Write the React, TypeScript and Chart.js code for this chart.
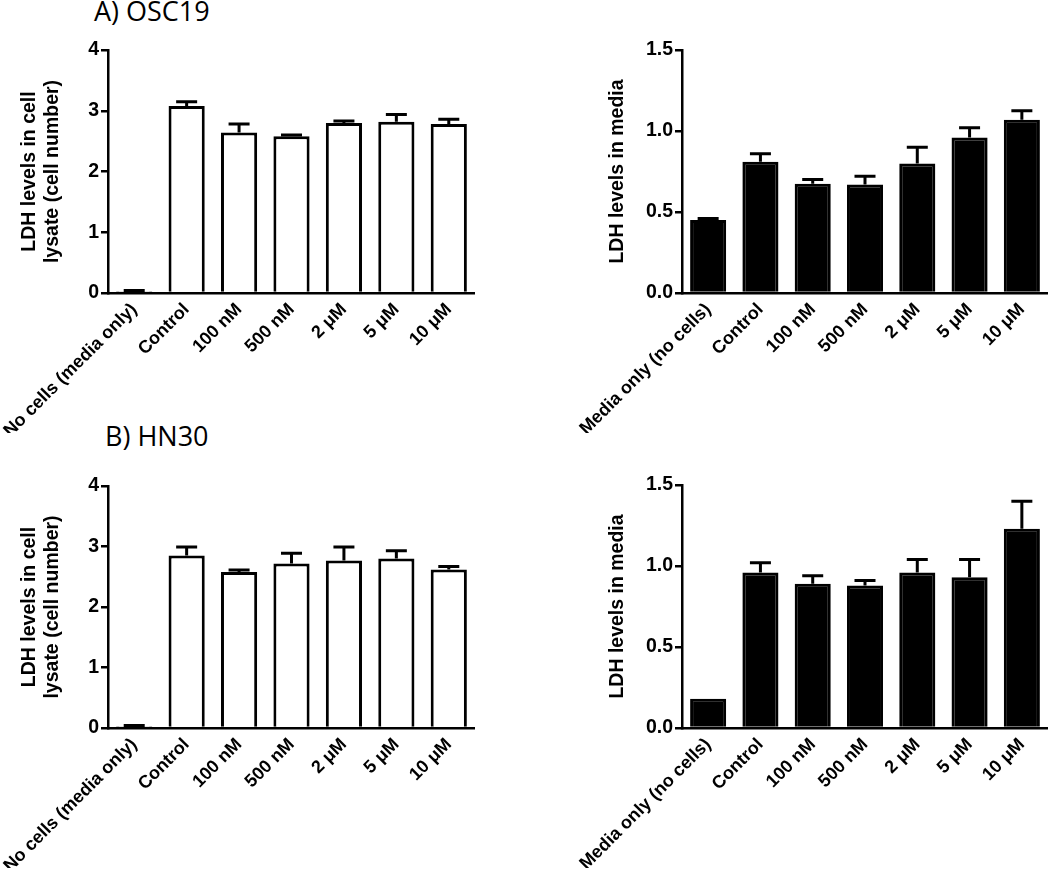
import React, { useEffect, useRef } from "react";
import { Chart, registerables } from "chart.js";

Chart.register(...registerables);

const catsLysate = ["No cells (media only)", "Control", "100 nM", "500 nM", "2 μM", "5 μM", "10 μM"];
const catsMedia = ["Media only (no cells)", "Control", "100 nM", "500 nM", "2 μM", "5 μM", "10 μM"];

const oscLysate = [0.03, 3.08, 2.64, 2.58, 2.8, 2.82, 2.78];
const oscLysateErr = [0.01, 0.07, 0.14, 0.02, 0.03, 0.12, 0.08];
const oscMedia = [0.45, 0.81, 0.675, 0.67, 0.8, 0.96, 1.07];
const oscMediaErr = [0.01, 0.05, 0.025, 0.05, 0.1, 0.06, 0.055];

const hnLysate = [0.03, 2.85, 2.58, 2.72, 2.77, 2.8, 2.62];
const hnLysateErr = [0.01, 0.14, 0.03, 0.17, 0.22, 0.13, 0.05];
const hnMedia = [0.18, 0.96, 0.89, 0.88, 0.96, 0.93, 1.23];
const hnMediaErr = [0.0, 0.06, 0.05, 0.03, 0.08, 0.11, 0.17];

const lysateTicksMax = 4;
const mediaTicksMax = 1.5;

const FONT = "'Liberation Sans', Arial, Helvetica, sans-serif";

type PanelProps = {
  labels: string[];
  values: number[];
  errors: number[];
  filled: boolean;
  yMax: number;
  step: number;
  decimals: number;
  yTitle: string | string[];
  titlePad: number;
  left: number;
  top: number;
  width: number;
  height: number;
  padRight: number;
};

function Panel(p: PanelProps) {
  const ref = useRef<HTMLCanvasElement | null>(null);
  useEffect(() => {
    if (!ref.current) return;
    const errorPlugin = {
      id: "errbars",
      afterDatasetsDraw(chart: any) {
        const ctx = chart.ctx;
        const meta = chart.getDatasetMeta(0);
        const ys = chart.scales.y;
        ctx.save();
        ctx.strokeStyle = "#000";
        ctx.lineWidth = 3;
        meta.data.forEach((el: any, i: number) => {
          const err = p.errors[i];
          if (!err) return;
          const yTop = ys.getPixelForValue(p.values[i] + err);
          ctx.beginPath();
          ctx.moveTo(el.x, el.y);
          ctx.lineTo(el.x, yTop);
          ctx.moveTo(el.x - 10.5, yTop);
          ctx.lineTo(el.x + 10.5, yTop);
          ctx.stroke();
        });
        ctx.restore();
      },
    };
    const chart = new Chart(ref.current, {
      type: "bar",
      data: {
        labels: p.labels,
        datasets: [
          {
            data: p.values,
            backgroundColor: p.filled ? "#000" : "#fff",
            borderColor: "#000",
            borderWidth: 3,
            borderSkipped: "start",
            barPercentage: 0.69,
            categoryPercentage: 1,
          },
        ],
      },
      options: {
        animation: false,
        responsive: true,
        maintainAspectRatio: false,
        layout: { padding: { top: 10, right: p.padRight, left: 0, bottom: 0 } },
        plugins: { legend: { display: false }, tooltip: { enabled: false }, title: { display: false } },
        scales: {
          x: {
            type: "category",
            offset: true,
            grid: { display: true, drawOnChartArea: false, drawTicks: false, color: "#000", lineWidth: 0 },
            border: { display: true, color: "#000", width: 2.5 },
            ticks: {
              autoSkip: false,
              minRotation: 45,
              maxRotation: 45,
              padding: 6,
              color: "#000",
              font: { family: FONT, size: 18, weight: "bold" },
            },
            afterFit(scale: any) {
              scale.height = 140;
              scale.paddingLeft = 0;
              scale.paddingRight = 0;
            },
          },
          y: {
            min: 0,
            max: p.yMax,
            grid: { display: true, drawOnChartArea: false, drawTicks: true, tickLength: 7, color: "#000", lineWidth: 2.5 },
            border: { display: true, color: "#000", width: 2.5 },
            ticks: {
              stepSize: p.step,
              padding: 2,
              color: "#000",
              font: { family: FONT, size: 19.5, weight: "bold" },
              callback: (v: any) => Number(v).toFixed(p.decimals),
            },
            title: {
              display: true,
              text: p.yTitle,
              color: "#000",
              font: { family: FONT, size: 19.5, weight: "bold", lineHeight: 1.18 },
              padding: { top: p.titlePad, bottom: 0 },
            },
            afterFit(scale: any) {
              scale.width = 108;
              scale.paddingTop = 0;
              scale.paddingBottom = 0;
            },
          },
        },
      },
      plugins: [errorPlugin],
    } as any);
    return () => chart.destroy();
  }, []);
  return (
    <div style={{ position: "absolute", left: p.left, top: p.top, width: p.width, height: p.height }}>
      <canvas ref={ref} />
    </div>
  );
}

const titleStyle: React.CSSProperties = {
  position: "absolute",
  fontFamily: "'Open Sans', sans-serif",
  fontSize: 27,
  lineHeight: "30px",
  color: "#000",
  whiteSpace: "nowrap",
};

export default function App() {
  return (
    <div style={{ position: "absolute", left: 0, top: 0, width: 1050, height: 874, overflow: "hidden", background: "#fff" }}>
      <div style={{ ...titleStyle, left: 94, top: -4 }}>A) OSC19</div>
      <div style={{ ...titleStyle, left: 105, top: 421 }}>B) HN30</div>
      <Panel
        labels={catsLysate}
        values={oscLysate}
        errors={oscLysateErr}
        filled={false}
        yMax={lysateTicksMax}
        step={1}
        decimals={0}
        yTitle={["LDH levels in cell", "lysate (cell number)"]}
        titlePad={18.5}
        left={0}
        top={40}
        width={480}
        height={393}
        padRight={5}
      />
      <Panel
        labels={catsMedia}
        values={oscMedia}
        errors={oscMediaErr}
        filled={true}
        yMax={mediaTicksMax}
        step={0.5}
        decimals={1}
        yTitle="LDH levels in media"
        titlePad={32.5}
        left={574}
        top={40}
        width={476}
        height={393}
        padRight={2}
      />
      <Panel
        labels={catsLysate}
        values={hnLysate}
        errors={hnLysateErr}
        filled={false}
        yMax={lysateTicksMax}
        step={1}
        decimals={0}
        yTitle={["LDH levels in cell", "lysate (cell number)"]}
        titlePad={18.5}
        left={0}
        top={476}
        width={480}
        height={392}
        padRight={5}
      />
      <Panel
        labels={catsMedia}
        values={hnMedia}
        errors={hnMediaErr}
        filled={true}
        yMax={mediaTicksMax}
        step={0.5}
        decimals={1}
        yTitle="LDH levels in media"
        titlePad={32.5}
        left={574}
        top={475}
        width={476}
        height={393}
        padRight={2}
      />
    </div>
  );
}
